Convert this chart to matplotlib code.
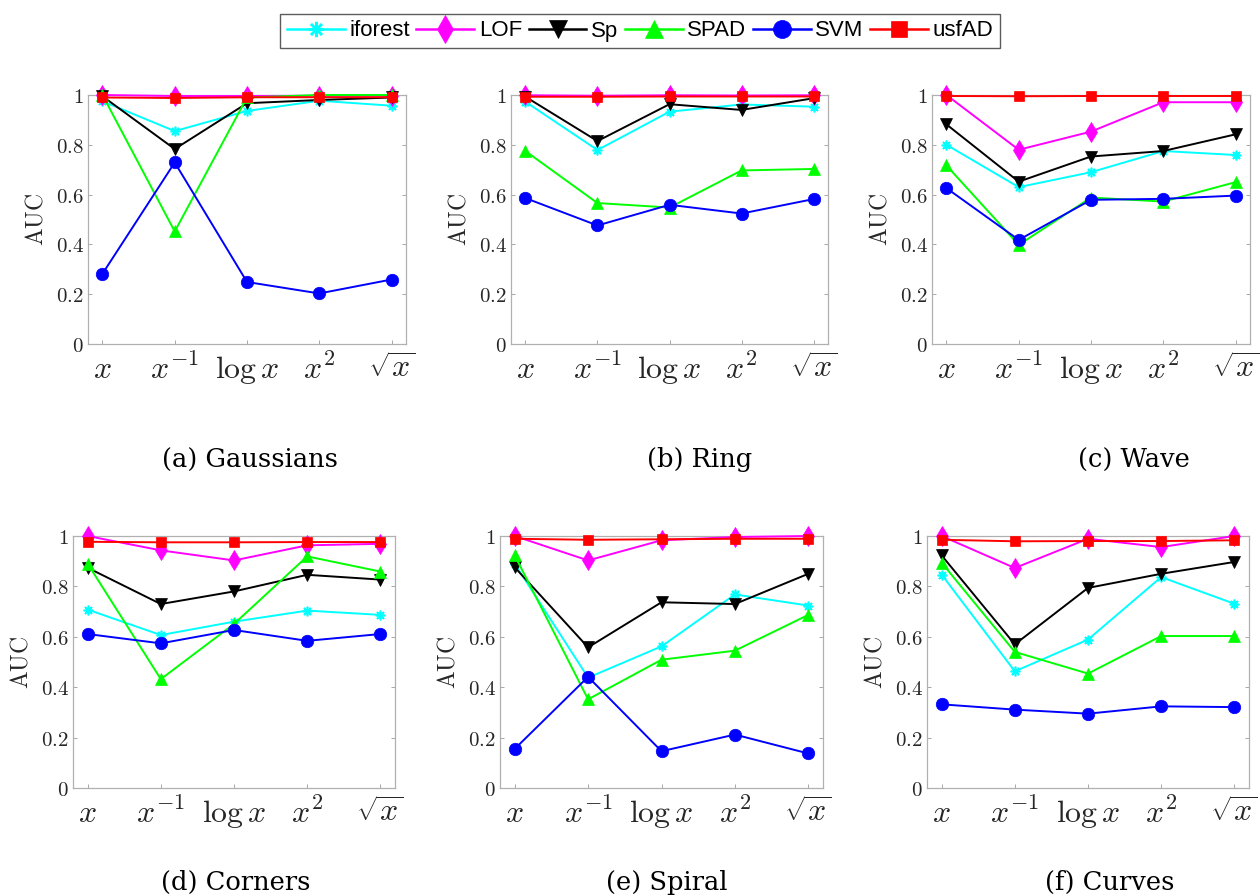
import numpy as np
import matplotlib
matplotlib.use('Agg')
import matplotlib.pyplot as plt
from matplotlib.lines import Line2D

plt.rcParams['mathtext.fontset'] = 'cm'

# x-axis transforms
transforms = [r'$x$', r'$x^{-1}$', r'$\log x$', r'$x^2$', r'$\sqrt{x}$']
methods = ['iforest', 'LOF', 'Sp', 'SPAD', 'SVM', 'usfAD']
panels = ['(a) Gaussians', '(b) Ring', '(c) Wave', '(d) Corners', '(e) Spiral', '(f) Curves']

# AUC per panel, one list per method (x, x^-1, log x, x^2, sqrt x)
gaussians_iforest = [0.975, 0.855, 0.936, 0.977, 0.957]
gaussians_lof = [1.0, 0.996, 0.996, 0.997, 0.997]
gaussians_sp = [0.995, 0.783, 0.967, 0.980, 0.990]
gaussians_spad = [1.0, 0.452, 0.990, 1.0, 1.0]
gaussians_svm = [0.282, 0.729, 0.249, 0.203, 0.259]
gaussians_usfad = [0.990, 0.988, 0.991, 0.991, 0.991]

ring_iforest = [0.973, 0.779, 0.933, 0.962, 0.953]
ring_lof = [0.999, 0.997, 0.999, 0.998, 0.999]
ring_sp = [0.993, 0.815, 0.963, 0.940, 0.987]
ring_spad = [0.775, 0.566, 0.548, 0.697, 0.703]
ring_svm = [0.586, 0.476, 0.559, 0.524, 0.582]
ring_usfad = [0.993, 0.993, 0.994, 0.994, 0.994]

wave_iforest = [0.800, 0.630, 0.690, 0.775, 0.759]
wave_lof = [1.0, 0.780, 0.853, 0.971, 0.971]
wave_sp = [0.882, 0.652, 0.753, 0.775, 0.842]
wave_spad = [0.717, 0.398, 0.588, 0.572, 0.650]
wave_svm = [0.626, 0.418, 0.579, 0.583, 0.596]
wave_usfad = [0.996, 0.995, 0.996, 0.996, 0.996]

corners_iforest = [0.708, 0.607, 0.660, 0.704, 0.687]
corners_lof = [1.0, 0.943, 0.903, 0.963, 0.969]
corners_sp = [0.874, 0.730, 0.780, 0.846, 0.827]
corners_spad = [0.890, 0.432, 0.651, 0.919, 0.859]
corners_svm = [0.611, 0.574, 0.627, 0.584, 0.611]
corners_usfad = [0.977, 0.975, 0.975, 0.976, 0.976]

spiral_iforest = [0.890, 0.438, 0.562, 0.768, 0.724]
spiral_lof = [1.0, 0.903, 0.983, 0.996, 1.0]
spiral_sp = [0.876, 0.558, 0.737, 0.730, 0.850]
spiral_spad = [0.923, 0.352, 0.509, 0.545, 0.687]
spiral_svm = [0.155, 0.441, 0.146, 0.212, 0.137]
spiral_usfad = [0.989, 0.985, 0.987, 0.989, 0.989]

curves_iforest = [0.847, 0.463, 0.589, 0.837, 0.731]
curves_lof = [1.0, 0.873, 0.989, 0.956, 1.0]
curves_sp = [0.923, 0.570, 0.794, 0.850, 0.897]
curves_spad = [0.894, 0.540, 0.454, 0.603, 0.603]
curves_svm = [0.332, 0.311, 0.295, 0.324, 0.321]
curves_usfad = [0.985, 0.979, 0.980, 0.980, 0.983]

data = [
    [gaussians_iforest, gaussians_lof, gaussians_sp, gaussians_spad, gaussians_svm, gaussians_usfad],
    [ring_iforest, ring_lof, ring_sp, ring_spad, ring_svm, ring_usfad],
    [wave_iforest, wave_lof, wave_sp, wave_spad, wave_svm, wave_usfad],
    [corners_iforest, corners_lof, corners_sp, corners_spad, corners_svm, corners_usfad],
    [spiral_iforest, spiral_lof, spiral_sp, spiral_spad, spiral_svm, spiral_usfad],
    [curves_iforest, curves_lof, curves_sp, curves_spad, curves_svm, curves_usfad],
]

colors = ['#00FFFF', '#FF00FF', '#000000', '#00FF00', '#0000FF', '#FF0000']
markers = [(8, 2, 0), 'd', 'v', '^', 'o', 's']
msizes = [7, 10, 9, 9, 9, 7]

W, H = 1260, 896
fig = plt.figure(figsize=(W / 100, H / 100), dpi=100)

# axes boxes in pixels: left, top, right, bottom
boxes = [
    (88, 95, 406, 344), (511, 95, 828, 344), (932, 95, 1250, 344),
    (73, 536, 395, 788), (500, 536, 823, 788), (927, 536, 1249, 788),
]
caption_pos = [(250, 460), (700, 460), (1134, 460), (236, 882), (667, 882), (1110, 882)]

xs = np.arange(1, 6)
for k, (l, t, r, b) in enumerate(boxes):
    ax = fig.add_axes([l / W, 1 - b / H, (r - l) / W, (b - t) / H])
    for j in range(len(methods)):
        ax.plot(xs, data[k][j], color=colors[j], marker=markers[j], ms=msizes[j],
                lw=1.4, mfc=colors[j], mec=colors[j], mew=1.2 if j == 0 else 0.5,
                clip_on=False, zorder=3 + j)
    ax.set_xlim(0.8, 5.2)
    ax.set_ylim(0, 1)
    ax.set_xticks(xs)
    ax.set_xticklabels(transforms, fontsize=23, color='#262626')
    ax.set_yticks([0, 0.2, 0.4, 0.6, 0.8, 1])
    ax.set_yticklabels([r'$0$', r'$0.2$', r'$0.4$', r'$0.6$', r'$0.8$', r'$1$'],
                       fontsize=15, color='#262626')
    ax.tick_params(direction='in', length=3, width=0.6, color='#999999',
                   top=True, right=True, pad=3)
    ax.tick_params(axis='x', pad=7)
    for s in ax.spines.values():
        s.set_color('#b0b0b0')
        s.set_linewidth(0.9)
    ax.set_ylabel(r'$\mathrm{AUC}$', fontsize=17, color='#262626', labelpad=6)
    cx, cy = caption_pos[k]
    fig.text(cx / W, 1 - cy / H, panels[k], ha='center', va='center',
             fontsize=18.5, family='DejaVu Serif')

handles = [Line2D([], [], color=colors[j], marker=markers[j], ms=msizes[j] + 4,
                  lw=1.8, mfc=colors[j], mec=colors[j], mew=1.8 if j == 0 else 0.5)
           for j in range(len(methods))]
leg = fig.legend(handles, methods, loc='center', bbox_to_anchor=(640 / W, 1 - 31 / H),
                 ncol=6, frameon=True, fancybox=False, edgecolor='#333333',
                 handlelength=2.6, handletextpad=0.2, columnspacing=0.3,
                 borderpad=0.3, prop={'family': 'Liberation Sans', 'size': 16})
leg.get_frame().set_linewidth(1.0)

fig.savefig('out.png', dpi=100)
